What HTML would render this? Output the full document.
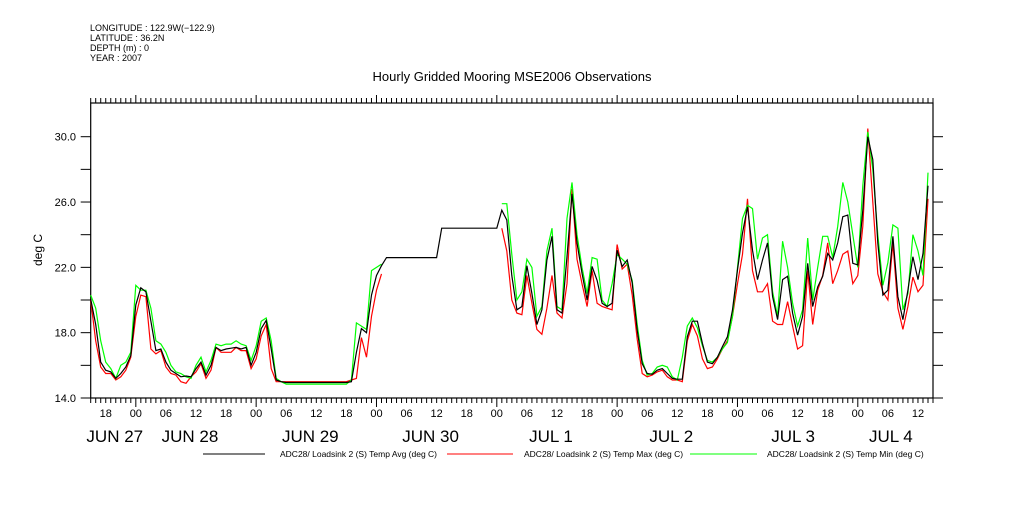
<!DOCTYPE html>
<html><head><meta charset="utf-8"><style>
body{margin:0;background:#fff;width:1009px;height:504px;overflow:hidden}
svg text{font-family:"Liberation Sans",sans-serif;fill:#000}
</style></head><body>
<svg id="chart" width="1009" height="504" viewBox="0 0 1009 504" xmlns="http://www.w3.org/2000/svg">
<g font-size="9">
<text x="90" y="31">LONGITUDE : 122.9W(−122.9)</text>
<text x="90" y="41">LATITUDE : 36.2N</text>
<text x="90" y="51">DEPTH (m) : 0</text>
<text x="90" y="61">YEAR : 2007</text>
</g>
<text x="512" y="81" text-anchor="middle" font-size="13">Hourly Gridded Mooring MSE2006 Observations</text>
<text transform="translate(42,250) rotate(-90)" text-anchor="middle" font-size="12">deg C</text>
<rect x="90.7" y="103" width="842.3" height="295" fill="none" stroke="#000" stroke-width="1.2"/>
<g id="axes"></g>
<g id="series"></g>
<g font-size="8.5">
<line x1="203" y1="454" x2="265" y2="454" stroke="#000"/>
<text x="280" y="457">ADC28/ Loadsink 2 (S) Temp Avg (deg C)</text>
<line x1="447" y1="454" x2="513" y2="454" stroke="#f00"/>
<text x="524" y="457">ADC28/ Loadsink 2 (S) Temp Max (deg C)</text>
<line x1="690" y1="454" x2="757" y2="454" stroke="#0f0"/>
<text x="767" y="457">ADC28/ Loadsink 2 (S) Temp Min (deg C)</text>
</g>
</svg>
<script>
const hourLabels=["00","06","12","18"];
const dateLabels=["JUN 27","JUN 28","JUN 29","JUN 30","JUL  1","JUL  2","JUL  3","JUL  4"];
const dateLabelHours=[4.8,19.8,43.8,67.8,91.8,115.8,140.1,159.6];
const yTicks=[14,16,18,20,22,24,26,28,30];
const yLabels=["14.0","18.0","22.0","26.0","30.0"];
const avgSeries=[20.06,18.5,16.2,15.7,15.6,15.2,15.5,15.9,16.6,19.7,20.75,20.5,18.7,16.9,17.0,16.2,15.7,15.5,15.3,15.35,15.3,15.8,16.2,15.4,16.0,17.1,16.9,17.0,17.05,17.1,17.0,17.1,16.0,16.8,18.25,18.75,17.0,15.1,15.0,14.95,14.95,14.95,14.95,14.95,14.95,14.95,14.95,14.95,14.95,14.95,14.95,14.95,15.0,16.8,18.25,18.0,20.3,21.5,22.1,22.6,22.6,22.6,22.6,22.6,22.6,22.6,22.6,22.6,22.6,22.6,24.4,24.4,24.4,24.4,24.4,24.4,24.4,24.4,24.4,24.4,24.4,24.4,25.5,24.9,21.5,19.4,19.6,22.1,20.4,18.5,19.4,22.45,23.9,19.4,19.2,22.65,26.5,23.5,21.65,20.0,22.05,21.2,19.8,19.6,19.8,23.05,22.05,22.45,21.05,18.15,16.1,15.5,15.45,15.7,15.8,15.5,15.2,15.15,15.15,17.75,18.7,18.7,17.35,16.2,16.1,16.5,17.15,17.75,19.4,21.85,24.1,25.7,23.05,21.25,22.45,23.5,20.2,18.8,21.25,21.45,19.2,17.85,19.0,22.25,19.6,20.8,21.45,22.85,22.45,23.5,25.1,25.2,22.25,22.15,25.5,30.0,28.6,23.5,20.3,20.6,23.9,20.2,18.8,20.6,22.65,21.25,22.85,27.0];
const greenSeries=[20.3,19.5,17.5,16.2,15.8,15.2,16.0,16.2,16.8,20.9,20.6,20.6,19.5,17.5,17.3,16.8,16.0,15.6,15.5,15.3,15.2,16.0,16.5,15.6,16.3,17.3,17.2,17.3,17.3,17.5,17.3,17.2,16.3,17.2,18.7,18.9,17.5,15.2,15.0,14.85,14.85,14.85,14.85,14.85,14.85,14.85,14.85,14.85,14.85,14.85,14.85,14.85,15.1,18.6,18.4,18.2,21.8,22.0,22.2,null,null,null,null,null,null,null,null,null,null,null,null,null,null,null,null,null,null,null,null,null,null,null,25.9,25.9,22.8,20.0,20.5,22.5,22.0,19.0,19.6,23.0,24.4,19.6,19.4,25.0,27.2,24.0,22.0,20.4,22.6,22.5,20.0,19.6,21.0,22.8,22.5,22.2,21.2,18.5,16.3,15.4,15.5,15.9,16.0,15.9,15.3,15.1,16.5,18.4,18.9,18.3,17.2,16.3,16.2,16.5,17.0,17.4,19.0,22.0,25.0,25.8,25.6,22.5,23.8,24.0,20.5,19.0,23.6,22.0,19.8,18.4,19.4,23.8,20.0,22.0,23.9,23.9,22.6,24.5,27.2,26.0,24.0,22.0,27.0,30.3,28.0,24.0,20.9,22.3,24.6,24.4,19.4,20.4,24.0,23.0,21.5,27.8];
const redSeries=[20.0,17.5,15.9,15.5,15.5,15.1,15.3,15.7,16.5,19.0,20.3,20.2,17.0,16.7,16.9,15.9,15.5,15.4,15.0,14.9,15.3,15.6,16.1,15.2,15.7,17.1,16.8,16.8,16.8,17.1,16.9,16.9,15.8,16.4,17.8,18.5,15.8,15.0,15.0,15.0,15.0,15.0,15.0,15.0,15.0,15.0,15.0,15.0,15.0,15.0,15.0,15.0,15.1,15.2,17.7,16.5,19.0,20.6,21.6,null,null,null,null,null,null,null,null,null,null,null,null,null,null,null,null,null,null,null,null,null,null,null,24.4,23.0,20.0,19.2,19.1,21.5,19.8,18.2,17.9,19.5,21.5,19.2,18.9,21.0,26.8,22.5,21.0,19.6,21.8,19.8,19.6,19.5,19.4,23.4,21.9,22.2,20.3,17.6,15.5,15.3,15.4,15.6,15.7,15.3,15.1,15.1,15.0,17.5,18.5,17.8,16.4,15.8,15.9,16.4,17.0,17.5,19.0,21.0,22.8,26.2,21.8,20.5,20.5,21.0,18.7,18.5,18.5,19.9,18.4,17.0,17.2,21.8,18.5,20.6,21.5,23.5,21.0,21.8,22.8,23.0,21.0,21.5,24.5,30.5,26.0,21.6,20.5,20.0,23.5,19.5,18.2,19.6,21.4,20.5,20.9,26.2];

const NS="http://www.w3.org/2000/svg";
const X0=90.7,X1=933,Y0=398,Y1=103,HMAX=168;
const xs=h=>X0+h*(X1-X0)/HMAX;
const ys=v=>398-(v-14)*(398-136.7)/16;
function mk(tag,attrs,parent){const e=document.createElementNS(NS,tag);for(const k in attrs)e.setAttribute(k,attrs[k]);parent.appendChild(e);return e;}
const axes=document.getElementById('axes');
for(let h=0;h<=HMAX;h++){
  const hod=(h+15)%24;
  const x=xs(h);
  const major=hod===0;
  const t1=mk('line',{x1:x,y1:Y0,x2:x,y2:Y0+(major?9:5),stroke:'#000','stroke-width':1},axes);
  
  
  const t2=mk('line',{x1:x,y1:Y1,x2:x,y2:Y1-(major?8:5),stroke:'#000','stroke-width':1},axes);
  
  
  if(hod%6===0 && h>0 && h<HMAX){
    const tx=mk('text',{x:x,y:417,'text-anchor':'middle','font-size':11},axes);
    tx.textContent=hourLabels[hod/6];
    
    
  }
}
dateLabels.forEach((d,i)=>{
  const t=mk('text',{x:xs(dateLabelHours[i]),y:442,'text-anchor':'middle','font-size':17,'xml:space':'preserve'},axes);
  t.textContent=d;
  
  
});
yTicks.forEach(v=>{
  const y=ys(v);
  const a=mk('line',{x1:X0-10,y1:y,x2:X0,y2:y,stroke:'#000'},axes);
  
  
  const b=mk('line',{x1:X1,y1:y,x2:X1+10,y2:y,stroke:'#000'},axes);
  
  
});
yLabels.forEach(l=>{
  const t=mk('text',{x:76,y:ys(parseFloat(l))+4,'text-anchor':'end','font-size':11},axes);
  t.textContent=l;
  
  
});
const sg=document.getElementById('series');
function draw(arr,color,name){
  let d='',pen=false;
  arr.forEach((v,h)=>{if(v===null){pen=false;return;}d+=(pen?'L':'M')+xs(h).toFixed(1)+' '+ys(v).toFixed(1)+' ';pen=true;});
  const p=mk('path',{d:d,fill:'none',stroke:color,'stroke-width':1.2},sg);
  
  
}
draw(redSeries,'#f00','series-temp-max');
draw(greenSeries,'#0f0','series-temp-min');
draw(avgSeries,'#000','series-temp-avg');
</script>
</body></html>
